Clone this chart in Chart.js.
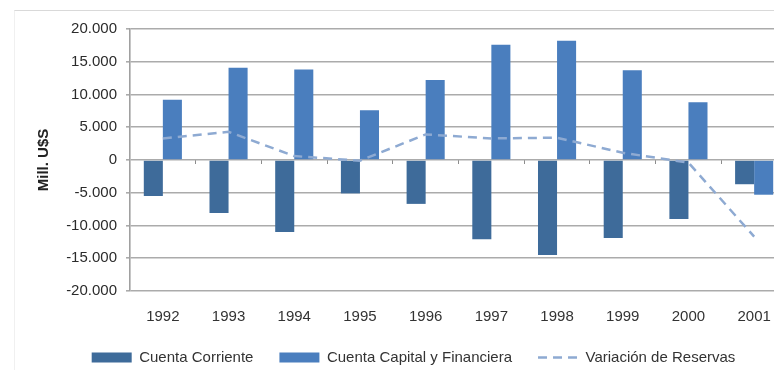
<!DOCTYPE html>
<html>
<head>
<meta charset="utf-8">
<script src="https://cdn.jsdelivr.net/npm/chart.js@4/dist/chart.umd.min.js"></script>
<style>
  html, body { margin: 0; padding: 0; background: #fff; overflow: hidden; }
  #frame {
    position: absolute; left: 14px; top: 10px;
    border-top: 1px solid #d9d9d9; border-left: 1px solid #f0f0f0;
    width: 800px; height: 400px;
  }
  canvas { display: block; }
</style>
</head>
<body>
<div id="frame"><canvas id="chart" width="780" height="365"></canvas></div>
<script>
// Balanza de pagos, Argentina 1992-2001 (millones de U$S)
const years = ['1992', '1993', '1994', '1995', '1996', '1997', '1998', '1999', '2000', '2001'];
const cuentaCorriente = [-5500, -8100, -11000, -5100, -6700, -12100, -14500, -11900, -9000, -3700];
const cuentaCapital = [9200, 14100, 13800, 7600, 12200, 17600, 18200, 13700, 8800, -5300];
const variacionReservas = [3300, 4300, 600, -100, 3900, 3300, 3400, 1100, -400, -11700];

const yTicks = { min: -20000, max: 20000, step: 5000 };

// thousands separated with dots, e.g. -15.000
function fmtMiles(v) {
  const s = Math.abs(v).toString().replace(/\B(?=(\d{3})+(?!\d))/g, '.');
  return (v < 0 ? '-' : '') + s;
}

// legend entries: the line series keeps its dash pattern and width
function legendLabels(chart) {
  const items = Chart.defaults.plugins.legend.labels.generateLabels(chart);
  items.forEach((it) => {
    const ds = chart.data.datasets[it.datasetIndex];
    if (ds.type === 'line') {
      it.lineDash = ds.borderDash;
      it.lineWidth = ds.borderWidth;
      it.strokeStyle = ds.borderColor;
    }
  });
  return items;
}

Chart.defaults.font.family = '"Liberation Sans", Arial, sans-serif';
Chart.defaults.font.size = 15;
Chart.defaults.color = '#333';

new Chart(document.getElementById('chart'), {
  type: 'bar',
  data: {
    labels: years,
    datasets: [
      {
        label: 'Cuenta Corriente',
        data: cuentaCorriente,
        backgroundColor: '#3e6b9a',
        borderWidth: 0,
        pointStyle: 'rect',
        order: 1
      },
      {
        label: 'Cuenta Capital y Financiera',
        data: cuentaCapital,
        backgroundColor: '#4a7ebe',
        borderWidth: 0,
        pointStyle: 'rect',
        order: 1
      },
      {
        type: 'line',
        label: 'Variación de Reservas',
        data: variacionReservas,
        borderColor: '#8eaad2',
        backgroundColor: '#8eaad2',
        borderWidth: 2.5,
        borderDash: [9, 6],
        pointRadius: 0,
        pointStyle: 'line',
        tension: 0,
        fill: false,
        order: 0
      }
    ]
  },
  options: {
    responsive: false,
    animation: false,
    categoryPercentage: 0.58,
    barPercentage: 1,
    layout: { padding: { left: 25, right: 8, top: 15, bottom: 1 } },
    plugins: {
      tooltip: { enabled: false },
      legend: {
        position: 'bottom',
        labels: {
          usePointStyle: true,
          pointStyleWidth: 40,
          boxHeight: 10,
          padding: 26,
          color: '#333',
          font: { size: 15 },
          generateLabels: legendLabels,
          sort: (a, b) => a.datasetIndex - b.datasetIndex
        }
      }
    },
    scales: {
      x: {
        position: 'bottom',
        grid: { display: false, drawTicks: false },
        border: { display: false },
        ticks: { padding: 17, color: '#333', font: { size: 15 }, maxRotation: 0 },
        afterFit: (scale) => { scale.height = 33; }
      },
      xZero: {
        type: 'category',
        position: { y: 0 },
        grid: { display: true, drawOnChartArea: false, drawTicks: true, tickLength: 4, color: '#8c8c8c', lineWidth: 1, offset: true },
        ticks: { display: false },
        border: { display: false }
      },
      y: {
        min: yTicks.min,
        max: yTicks.max,
        ticks: {
          stepSize: yTicks.step,
          padding: 9,
          color: '#2b2b2b',
          font: { size: 15 },
          callback: (v) => fmtMiles(v)
        },
        grid: { color: '#ababab', lineWidth: 1.6, tickLength: 4, drawTicks: true },
        border: { display: true, color: '#a0a0a0', width: 1.6 },
        title: {
          display: true,
          text: 'Mill. U$S',
          color: '#222',
          font: { size: 15, weight: 'bold', lineHeight: 1 },
          padding: { top: -4, bottom: 0 }
        },
        afterFit: (scale) => { scale.width = 90; }
      }
    }
  }
});
</script>
</body>
</html>
